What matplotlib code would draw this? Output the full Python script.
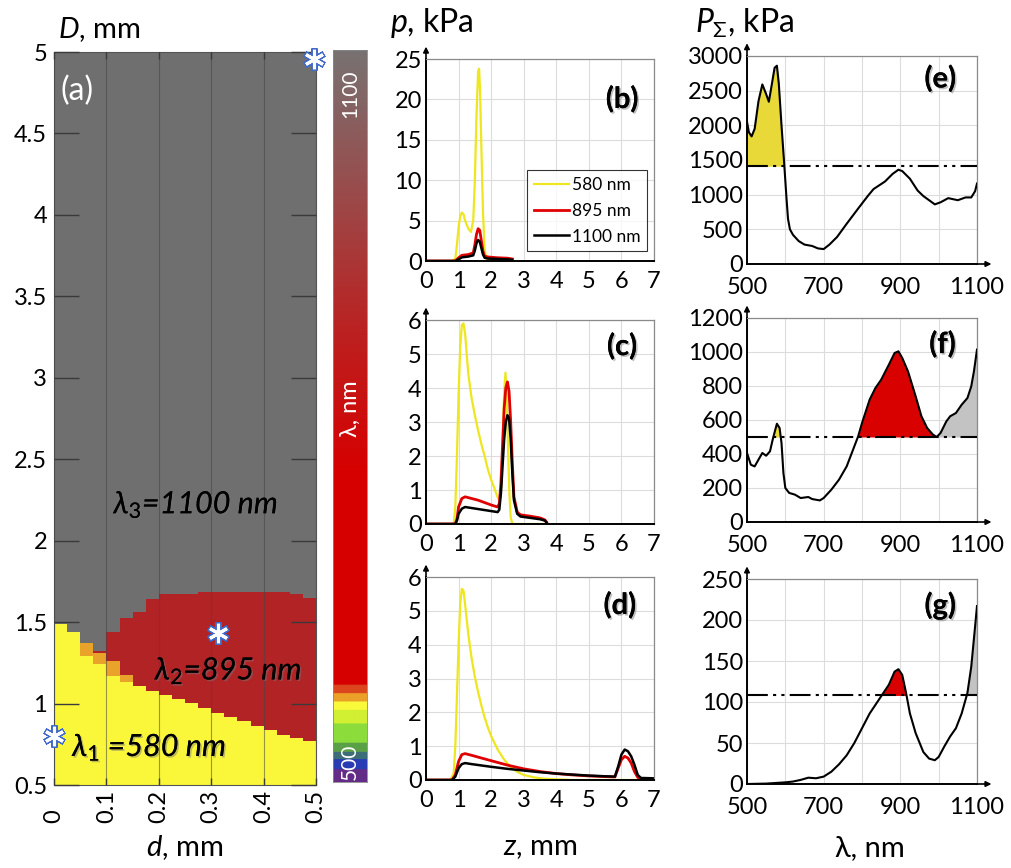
import numpy as np
import matplotlib
matplotlib.use('Agg')
import matplotlib.pyplot as plt
import matplotlib.patheffects as pe
from matplotlib.colors import ListedColormap, LinearSegmentedColormap

plt.rcParams['font.family'] = ['Lato', 'DejaVu Sans']
plt.rcParams['mathtext.fontset'] = 'custom'
plt.rcParams['mathtext.rm'] = 'Lato'
plt.rcParams['mathtext.it'] = 'Lato:italic'
plt.rcParams['mathtext.fallback'] = 'stixsans'

# ---------------- data ----------------
# panel (a): region boundaries for 20 columns of d (0..0.5 mm)
d_edges = np.linspace(0, 0.5, 21)
yellow_top = [1.49, 1.44, 1.29, 1.24, 1.17, 1.135, 1.11, 1.08, 1.05, 1.03,
              1.005, 0.975, 0.945, 0.92, 0.895, 0.865, 0.84, 0.81, 0.79, 0.77]
orange_top = [1.49, 1.44, 1.37, 1.31, 1.26, 1.175, 1.11, 1.08, 1.05, 1.03,
              1.005, 0.975, 0.945, 0.92, 0.895, 0.865, 0.84, 0.81, 0.79, 0.77]
red_top = [1.49, 1.44, 1.37, 1.32, 1.44, 1.525, 1.565, 1.64, 1.67, 1.67,
           1.67, 1.685, 1.685, 1.685, 1.685, 1.685, 1.685, 1.685, 1.67, 1.645]
region_colors = ['#FAF63A', '#E9A22A', '#B22326', '#6F6F6F']
d_ticks = [0, 0.1, 0.2, 0.3, 0.4, 0.5]
d_ticklabels = ['0', '0.1', '0.2', '0.3', '0.4', '0.5']
D_ticks = [0.5, 1, 1.5, 2, 2.5, 3, 3.5, 4, 4.5, 5]
D_ticklabels = ['0.5', '1', '1.5', '2', '2.5', '3', '3.5', '4', '4.5', '5']

cbar_pos = [0.0, 0.016, 0.030, 0.041, 0.052, 0.080, 0.098, 0.109, 0.121, 0.132]
cbar_cols = ['#642C86', '#2A3CB4', '#3C6E78', '#5AA046', '#8CDC3C',
             '#D2F032', '#FAFA3C', '#EBA028', '#DC461E', '#D70000']
cbar_grad_pos = [0.42, 0.6, 0.83, 1.0]
cbar_grad_cols = ['#D70000', '#BE1E1E', '#965050', '#787272']

# panel (b)
zb_580 = [0, 0.8, 0.9, 0.95, 1.0, 1.05, 1.1, 1.15, 1.2, 1.3, 1.38, 1.45, 1.5, 1.55, 1.6, 1.63, 1.66,
          1.7, 1.75, 1.8, 1.85, 1.9, 2.0, 2.6]
pb_580 = [0, 0, 0.3, 2.0, 4.2, 5.5, 6.0, 5.8, 5.0, 4.0, 3.6, 5.0, 10.0, 18.0, 23.5, 23.8, 21.0,
          14.0, 6.0, 1.5, 0.3, 0.1, 0.05, 0.05]
zb_lng = [0, 0.9, 1.0, 1.1, 1.3, 1.45, 1.5, 1.55, 1.6, 1.65, 1.7, 1.75, 1.8, 1.9, 2.2, 2.5, 2.65]
pb_895 = [0, 0, 0.4, 0.7, 0.8, 1.0, 2.0, 3.3, 4.0, 3.8, 2.5, 1.2, 0.6, 0.5, 0.4, 0.35, 0.25]
pb_1100 = [0, 0, 0.2, 0.45, 0.55, 0.7, 1.3, 2.2, 2.6, 2.4, 1.6, 0.8, 0.4, 0.3, 0.25, 0.2, 0.15]

# panel (c)
zc_580 = [0, 0.85, 0.9, 0.95, 1.0, 1.05, 1.1, 1.15, 1.2, 1.3, 1.4, 1.5, 1.6, 1.7, 1.8, 1.9, 2.0,
          2.1, 2.2, 2.25, 2.3, 2.35, 2.4, 2.44, 2.48, 2.52, 2.56, 2.6, 2.65, 3.6]
pc_580 = [0, 0, 0.5, 2.0, 3.8, 5.2, 5.85, 5.9, 5.6, 4.4, 3.7, 3.2, 2.75, 2.35, 2.0, 1.6, 1.3,
          1.05, 0.78, 0.7, 0.9, 2.2, 3.9, 4.45, 3.8, 2.2, 0.9, 0.2, 0.0, 0.0]
zc_lng = [0, 0.9, 0.95, 1.0, 1.1, 1.2, 1.4, 1.6, 1.8, 2.0, 2.2, 2.25, 2.3, 2.35, 2.4, 2.45, 2.5,
          2.55, 2.6, 2.65, 2.7, 2.8, 2.9, 3.2, 3.5, 3.65, 3.7]
pc_895 = [0, 0, 0.15, 0.5, 0.75, 0.8, 0.75, 0.7, 0.63, 0.56, 0.5, 0.6, 1.2, 2.3, 3.4, 4.0, 4.18,
          3.9, 3.0, 1.8, 0.8, 0.35, 0.27, 0.23, 0.18, 0.12, 0.06]
pc_1100 = [0, 0, 0.1, 0.3, 0.45, 0.5, 0.47, 0.44, 0.41, 0.38, 0.35, 0.42, 0.9, 1.7, 2.5, 3.0, 3.2,
           3.1, 2.5, 1.5, 0.7, 0.3, 0.22, 0.18, 0.14, 0.1, 0.04]

# panel (d)
zd_580 = [0, 0.75, 0.85, 0.9, 0.95, 1.0, 1.05, 1.1, 1.15, 1.2, 1.3, 1.4, 1.5, 1.6, 1.7, 1.8, 1.9,
          2.0, 2.2, 2.4, 2.6, 2.8, 3.0, 3.3, 3.6, 4.0, 4.5, 7.0]
pd_580 = [0, 0, 0.2, 1.0, 2.5, 4.0, 5.2, 5.65, 5.6, 5.2, 4.3, 3.6, 3.05, 2.6, 2.2, 1.85, 1.55,
          1.3, 0.9, 0.6, 0.38, 0.24, 0.15, 0.08, 0.04, 0.02, 0.0, 0.0]
zd_lng = [0, 0.8, 0.9, 1.0, 1.1, 1.2, 1.4, 1.7, 2.0, 2.5, 3.0, 3.5, 4.0, 4.5, 5.0, 5.5, 5.8, 5.9,
          6.0, 6.1, 6.2, 6.3, 6.4, 6.5, 6.6, 7.0]
pd_895 = [0, 0, 0.15, 0.55, 0.75, 0.78, 0.73, 0.65, 0.57, 0.44, 0.33, 0.25, 0.19, 0.15, 0.12, 0.1,
          0.09, 0.35, 0.6, 0.7, 0.65, 0.5, 0.25, 0.08, 0.02, 0.02]
pd_1100 = [0, 0, 0.1, 0.35, 0.47, 0.5, 0.47, 0.43, 0.39, 0.33, 0.28, 0.23, 0.19, 0.16, 0.13, 0.11,
           0.1, 0.4, 0.75, 0.9, 0.85, 0.7, 0.45, 0.15, 0.06, 0.05]

# panel (e)
lam_e = [500, 505, 512, 520, 530, 540, 550, 557, 565, 572, 578, 583, 590, 597, 600, 603, 607, 612,
         620, 635, 650, 670, 685, 700, 715, 735, 760, 790, 815, 830, 860, 880, 895, 905, 925, 945,
         960, 975, 990, 1005, 1025, 1050, 1070, 1085, 1095, 1100]
P_e = [2050, 1900, 1840, 1950, 2350, 2590, 2450, 2340, 2600, 2830, 2860, 2600, 2000, 1450, 1200,
       950, 650, 500, 420, 330, 280, 260, 225, 215, 280, 390, 580, 800, 980, 1080, 1190, 1300,
       1360, 1340, 1230, 1060, 980, 920, 860, 890, 950, 920, 960, 960, 1050, 1160]
thr_e = 1410

# panel (f)
lam_f = [500, 510, 520, 530, 540, 550, 560, 568, 578, 585, 590, 595, 600, 610, 625, 640, 660, 670,
         690, 700, 720, 740, 760, 780, 790, 800, 820, 835, 850, 870, 885, 895, 905, 920, 940, 955,
         970, 985, 995, 1005, 1020, 1030, 1045, 1060, 1075, 1085, 1092, 1100]
P_f = [406, 337, 327, 367, 406, 390, 416, 494, 578, 553, 465, 288, 200, 171, 161, 141, 147, 135,
       127, 141, 190, 249, 327, 445, 504, 582, 720, 788, 837, 925, 994, 1004, 965, 886, 739, 622,
       553, 514, 500, 524, 592, 622, 641, 690, 729, 798, 886, 1014]
thr_f = 500

# panel (g)
lam_g = [500, 550, 600, 620, 640, 660, 680, 700, 720, 740, 760, 780, 800, 820, 840, 850, 870, 885,
         895, 905, 915, 925, 940, 960, 975, 990, 1000, 1015, 1030, 1045, 1060, 1075, 1085, 1095, 1100]
P_g = [0, 0.5, 2, 3, 5, 7.7, 7, 9, 15, 24, 35, 50, 68, 86, 100, 107, 121, 137, 140, 133, 111, 86,
       62, 39, 31, 29, 33, 46, 58, 68, 86, 111, 143, 192, 217]
thr_g = 108

# ---------------- figure ----------------
W, H = 1011, 868
fig = plt.figure(figsize=(W / 100, H / 100), dpi=100)


def add_ax(l, t, r, b):
    return fig.add_axes([l / W, 1 - b / H, (r - l) / W, (b - t) / H])


def ftext(x, y, s, **kw):
    return fig.text(x / W, 1 - y / H, s, **kw)


shadow = [pe.withSimplePatchShadow(offset=(1.2, -1.2), shadow_rgbFace='#777777', alpha=0.45),
          pe.Normal()]

# ----- panel (a)
axa = add_ax(54, 52, 316, 785)
D_edges = np.arange(0.5, 5.0001, 0.005)
Dc = 0.5 * (D_edges[:-1] + D_edges[1:])
cat = np.full((len(Dc), 20), 3)
for j in range(20):
    cat[Dc < red_top[j], j] = 2
    cat[Dc < orange_top[j], j] = 1
    cat[Dc < yellow_top[j], j] = 0
axa.pcolormesh(d_edges, D_edges, cat, cmap=ListedColormap(region_colors), vmin=-0.5, vmax=3.5)
axa.set_xlim(0, 0.5)
axa.set_ylim(0.5, 5)
axa.set_xticks(d_ticks)
axa.set_xticklabels([])
for xv, lab in zip(d_ticks, d_ticklabels):
    axa.text(xv, -0.052, lab, rotation=90, fontsize=17, ha='center', va='bottom',
             transform=axa.get_xaxis_transform(), clip_on=False)
axa.set_yticks(D_ticks)
axa.set_yticklabels(D_ticklabels, fontsize=17)
axa.xaxis.set_ticks_position('both')
axa.yaxis.set_ticks_position('both')
axa.tick_params(axis='y', direction='in', length=18, width=1, color='#3a3a3a', pad=5)
axa.tick_params(axis='x', direction='in', length=5, width=1, color='#3a3a3a', pad=6)
axa.grid(axis='x', color='#454545', lw=0.8, alpha=0.55)
axa.set_axisbelow(False)
for s in axa.spines.values():
    s.set_color('#555555')
    s.set_linewidth(0.8)


def star(ax, x, y, ms=16):
    ax.plot(x, y, marker=(6, 2, 0), ms=ms, mec='#4169C8', mew=4.5, ls='none', clip_on=False, zorder=10)
    ax.plot(x, y, marker=(6, 2, 0), ms=ms - 2, mec='white', mew=2.2, ls='none', clip_on=False, zorder=11)


star(axa, 0.497, 4.96)
star(axa, 0.313, 1.435)
star(axa, 0.0, 0.80)

axa.text(0.012, 4.76, '(a)', color='white', fontsize=23, va='center', ha='left')
for s, xx, yy in [(r'$\lambda_3$=1100 nm', 0.271, 2.22),
                  (r'$\lambda_2$=895 nm', 0.333, 1.20),
                  (r'$\lambda_1$ =580 nm', 0.182, 0.73)]:
    t = axa.text(xx, yy, s, fontsize=22, style='italic', ha='center', va='center', zorder=12)
    t.set_path_effects(shadow)

# ----- colorbar
axc = add_ax(333, 50, 367, 782)
nodes = []
for i in range(len(cbar_pos)):
    p0 = cbar_pos[i]
    p1 = cbar_pos[i + 1] if i + 1 < len(cbar_pos) else cbar_grad_pos[0]
    nodes.append((p0, cbar_cols[i]))
    nodes.append((max(p0, p1 - 1e-4), cbar_cols[i]))
for p, c in zip(cbar_grad_pos, cbar_grad_cols):
    nodes.append((p, c))
cmap_bar = LinearSegmentedColormap.from_list('bar', nodes, N=1024)
axc.imshow(np.linspace(0, 1, 800).reshape(-1, 1), cmap=cmap_bar, aspect='auto',
           origin='lower', extent=[0, 1, 0, 1])
axc.set_xticks([])
axc.set_yticks([])
for s in axc.spines.values():
    s.set_color('#888888')
    s.set_linewidth(0.6)
axc.text(0.5, 0.94, '1100', rotation=90, color='white', fontsize=15, ha='center', va='center',
         transform=axc.transAxes)
axc.text(0.5, 0.027, '500', rotation=90, color='white', fontsize=15, ha='center', va='center',
         transform=axc.transAxes)
axc.text(0.5, 0.51, 'λ, nm', rotation=90, color='white', fontsize=17, ha='center', va='center',
         transform=axc.transAxes)


# ----- common styling for line panels
def style(ax, xlim, ylim, xticks, yticks, xticklabels=None, xarrow=False, xpad=7.5):
    ax.set_xlim(*xlim)
    ax.set_ylim(*ylim)
    ax.set_xticks(xticks)
    ax.set_yticks(yticks)
    if xticklabels is not None:
        ax.set_xticklabels(xticklabels)
    ax.tick_params(length=0, labelsize=17)
    ax.tick_params(axis='x', pad=xpad)
    ax.tick_params(axis='y', pad=3)
    ax.grid(True, color='#DCDCDC', lw=0.8)
    ax.set_axisbelow(True)
    for k in ('top', 'right'):
        ax.spines[k].set_color('#8A8A8A')
        ax.spines[k].set_linewidth(0.9)
    for k in ('left', 'bottom'):
        ax.spines[k].set_color('black')
        ax.spines[k].set_linewidth(1.4)
    ax.annotate('', xy=(0, 1.075), xytext=(0, 0.99), xycoords='axes fraction',
                arrowprops=dict(arrowstyle='-|>', color='black', lw=1.2, mutation_scale=8))
    if xarrow:
        ax.annotate('', xy=(1.075, 0), xytext=(0.99, 0), xycoords='axes fraction',
                    arrowprops=dict(arrowstyle='-|>', color='black', lw=1.2, mutation_scale=8))


def panel_label(ax, s, x, y):
    t = ax.text(x, y, s, transform=ax.transAxes, fontsize=21, fontweight='bold',
                ha='center', va='center', zorder=10)
    t.set_path_effects(shadow)


YEL, RED = '#EEE61E', '#E00000'


def plines(ax, z1, p1, z2, p2, p3):
    l1, = ax.plot(z1, p1, color=YEL, lw=1.6, label='580 nm')
    l2, = ax.plot(z2, p2, color=RED, lw=2.0, label='895 nm')
    l3, = ax.plot(z2, p3, color='black', lw=1.8, label='1100 nm')
    return [l1, l2, l3]


axb = add_ax(426, 59, 654, 261)
hs = plines(axb, zb_580, pb_580, zb_lng, pb_895, pb_1100)
style(axb, (0, 7), (0, 25), range(8), [0, 5, 10, 15, 20, 25])
leg = axb.legend(handles=hs, loc='lower right', bbox_to_anchor=(0.985, 0.03), fontsize=12.5,
                 frameon=True, fancybox=False, edgecolor='black', handlelength=2.0,
                 handletextpad=0.15, borderpad=0.4, labelspacing=0.55, borderaxespad=0.2)
leg.get_frame().set_linewidth(0.8)
panel_label(axb, '(b)', 0.86, 0.80)

axcc = add_ax(426, 320, 654, 524)
plines(axcc, zc_580, pc_580, zc_lng, pc_895, pc_1100)
style(axcc, (0, 7), (0, 6), range(8), range(7))
panel_label(axcc, '(c)', 0.86, 0.87)

axd = add_ax(426, 577, 654, 780)
plines(axd, zd_580, pd_580, zd_lng, pd_895, pd_1100)
style(axd, (0, 7), (0, 6), range(8), range(7))
panel_label(axd, '(d)', 0.85, 0.86)


# ----- P_Sigma panels
def spectrum(ax, lam, P, thr):
    lam = np.asarray(lam, float)
    P = np.asarray(P, float)
    above = P > thr
    ax.fill_between(lam, thr, P, where=above & (lam < 700), interpolate=True,
                    color='#E8D838', lw=0, zorder=2)
    ax.fill_between(lam, thr, P, where=above & (lam >= 700) & (lam < 992), interpolate=True,
                    color='#D90000', lw=0, zorder=2)
    ax.fill_between(lam, thr, P, where=above & (lam >= 992), interpolate=True,
                    color='#C3C3C3', lw=0, zorder=2)
    ax.plot(lam, P, color='black', lw=1.5, zorder=3)
    ax.plot([500, 1100], [thr, thr], color='black', lw=1.5, zorder=4,
            linestyle=(0, (10, 2.5, 1.5, 2.5, 1.5, 2.5)))


xt = [500, 600, 700, 800, 900, 1000, 1100]
xtl = ['500', '', '700', '', '900', '', '1100']

axe = add_ax(747, 56, 977, 264)
spectrum(axe, lam_e, P_e, thr_e)
style(axe, (500, 1100), (0, 3000), xt, range(0, 3001, 500), xtl, xarrow=True, xpad=9.5)
panel_label(axe, '(e)', 0.84, 0.89)

axf = add_ax(747, 318, 977, 522)
spectrum(axf, lam_f, P_f, thr_f)
style(axf, (500, 1100), (0, 1200), xt, range(0, 1201, 200), xtl, xarrow=True, xpad=9.5)
panel_label(axf, '(f)', 0.85, 0.87)

axg = add_ax(747, 579, 977, 784)
spectrum(axg, lam_g, P_g, thr_g)
style(axg, (500, 1100), (0, 250), xt, range(0, 251, 50), xtl, xarrow=True, xpad=9.5)
panel_label(axg, '(g)', 0.84, 0.87)

# ----- axis titles
ftext(58, 30, r'$D$, mm', fontsize=21, va='center', ha='left')
ftext(390, 23, r'$p$, kPa', fontsize=23, va='center', ha='left')
ftext(695, 23, r'$P_\Sigma$, kPa', fontsize=23, va='center', ha='left')
ftext(185, 848, r'$d$, mm', fontsize=21, va='center', ha='center')
ftext(540, 848, r'$z$, mm', fontsize=21, va='center', ha='center')
ftext(870, 848, 'λ, nm', fontsize=21, va='center', ha='center')

fig.savefig('out.png', dpi=100)
